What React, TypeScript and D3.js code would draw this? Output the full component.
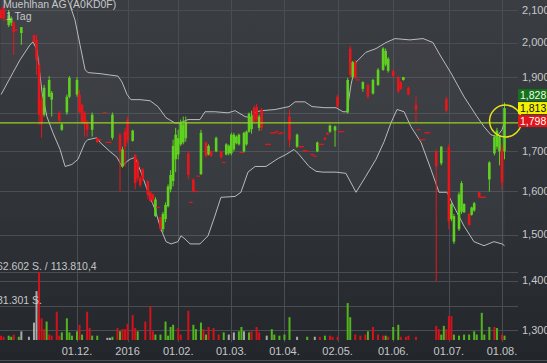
import React from "react";
import * as d3 from "d3";

const W = 547;
const H = 363;

const title = "Muehlhan AG (A0KD0F)";
const period = "1 Tag";

// trading day index of the x axis labels
const xTicks = [
  { i: 30, label: "01.12." },
  { i: 50, label: "2016" },
  { i: 70, label: "01.02." },
  { i: 91, label: "01.03." },
  { i: 112, label: "01.04." },
  { i: 133, label: "02.05." },
  { i: 155, label: "01.06." },
  { i: 177, label: "01.07." },
  { i: 198, label: "01.08." },
];

const yTicks = [1.3, 1.4, 1.5, 1.6, 1.7, 1.8, 1.9, 2.0, 2.1];

// [open, high, low, close], a single value = unchanged day, null = no trade
const candles: (number[] | null)[] = [
  [2.1, 2.105, 2.07, 2.075],
  [2.109, 2.116, 2.066, 2.075],
  [2.069],
  [2.053, 2.1, 2.047, 2.084],
  [2.06, 2.08, 2.05, 2.075],
  [2.062, 2.065, 1.963, 2.032],
  [2.038],
  null,
  [2.029, 2.047, 1.993, 2.047],
  null,
  null, // 10
  null,
  null,
  [2.023, 2.023, 2.0, 2.002],
  [2.008, 2.023, 1.905, 1.949],
  [1.934, 1.949, 1.769, 1.795],
  [1.836, 1.85, 1.734, 1.769],
  [1.795, 1.877, 1.79, 1.869],
  null,
  [1.844, 1.902, 1.844, 1.891],
  [1.836, 1.86, 1.79, 1.855], // 20
  null,
  null,
  [1.801, 1.805, 1.775, 1.779],
  [1.755, 1.773, 1.752, 1.769],
  null,
  [1.801, 1.85, 1.795, 1.844],
  [1.844, 1.902, 1.84, 1.897],
  null,
  null,
  [1.85, 1.899, 1.844, 1.891], // 30
  [1.85, 1.863, 1.801, 1.801],
  [1.822, 1.825, 1.77, 1.775],
  [1.801, 1.805, 1.737, 1.769],
  [1.775, 1.78, 1.737, 1.755],
  null,
  [1.755, 1.801, 1.737, 1.795],
  null,
  [1.734, 1.734, 1.722, 1.722],
  [1.729],
  null, // 40
  [1.801],
  [1.722],
  [1.722],
  [1.734, 1.801, 1.729, 1.795],
  null,
  null,
  [1.742, 1.747, 1.6, 1.699],
  [1.661, 1.711, 1.658, 1.704],
  [1.75, 1.76, 1.661, 1.711],
  [1.782, 1.79, 1.72, 1.729], // 50
  null,
  [1.726, 1.755, 1.724, 1.753],
  [1.691, 1.691, 1.605, 1.62],
  [1.674, 1.679, 1.625, 1.632],
  [1.632, 1.637, 1.61, 1.615],
  [1.654, 1.657, 1.625, 1.629],
  null,
  [1.625, 1.627, 1.581, 1.593],
  [1.598, 1.6, 1.575, 1.577],
  [1.593, 1.595, 1.572, 1.581], // 60
  [1.542, 1.586, 1.54, 1.581],
  [1.562],
  [1.54, 1.54, 1.508, 1.512],
  [1.512, 1.552, 1.505, 1.547],
  [1.535, 1.574, 1.528, 1.568],
  [1.565, 1.617, 1.562, 1.612],
  [1.605, 1.652, 1.598, 1.64],
  [1.625, 1.729, 1.612, 1.713],
  [1.679, 1.76, 1.647, 1.742],
  [1.691, 1.755, 1.679, 1.733], // 70
  [1.717, 1.782, 1.713, 1.773],
  [1.722, 1.79, 1.717, 1.769],
  [1.733, 1.79, 1.724, 1.775],
  [1.694, 1.7, 1.629, 1.64],
  [1.574],
  [1.629, 1.632, 1.598, 1.6],
  [1.6],
  [1.637],
  [1.642, 1.755, 1.64, 1.747],
  null, // 80
  [1.722, 1.724, 1.684, 1.687],
  [1.691, 1.717, 1.689, 1.713],
  [1.699, 1.701, 1.685, 1.687],
  null,
  [1.699, 1.737, 1.697, 1.734],
  null,
  [1.699, 1.701, 1.681, 1.684],
  [1.671],
  [1.691, 1.72, 1.689, 1.717],
  [1.694, 1.717, 1.689, 1.713], // 90
  [1.694, 1.747, 1.689, 1.742],
  [1.704, 1.747, 1.699, 1.742],
  [1.72, 1.74, 1.717, 1.737],
  [1.717, 1.745, 1.714, 1.742],
  [1.696],
  [1.699, 1.75, 1.696, 1.747],
  [1.717, 1.753, 1.714, 1.75],
  [1.75, 1.801, 1.747, 1.798],
  [1.757, 1.806, 1.745, 1.79],
  [1.814, 1.82, 1.773, 1.775], // 100
  [1.817, 1.825, 1.775, 1.782],
  [1.76, 1.795, 1.752, 1.79],
  [1.809, 1.814, 1.752, 1.76],
  null,
  [1.717],
  [1.717],
  [1.747],
  [1.747],
  [1.75],
  [1.745], // 110
  [1.747],
  null,
  null,
  [1.79, 1.809, 1.711, 1.729],
  null,
  null,
  [1.711, 1.745, 1.708, 1.742],
  [1.711],
  [1.711],
  [1.701], // 120
  [1.699],
  null,
  [1.691],
  [1.687],
  [1.699, 1.724, 1.697, 1.722],
  [1.717],
  [1.717],
  [1.734, 1.735, 1.729, 1.729],
  [1.747, 1.748, 1.742, 1.742],
  [1.75, 1.769, 1.747, 1.766], // 130
  null,
  [1.753, 1.766, 1.711, 1.764],
  [1.844, 1.85, 1.814, 1.817],
  [1.75],
  [1.75],
  null,
  [1.801, 1.897, 1.798, 1.891],
  [1.982, 1.99, 1.897, 1.905],
  [1.899, 1.946, 1.897, 1.942],
  [1.942, 1.949, 1.894, 1.897], // 140
  [1.891],
  null,
  [1.866, 1.887, 1.858, 1.885],
  null,
  [1.877, 1.88, 1.839, 1.844],
  null,
  [1.853, 1.894, 1.85, 1.891],
  null,
  [1.877, 1.925, 1.874, 1.92],
  null, // 150
  [1.92, 1.986, 1.917, 1.982],
  [1.935, 1.982, 1.93, 1.975],
  [1.917, 1.957, 1.912, 1.952],
  null,
  [1.917, 1.92, 1.9, 1.902],
  null,
  [1.899, 1.902, 1.855, 1.858],
  [1.885, 1.888, 1.863, 1.866],
  [1.891, 1.9, 1.889, 1.899],
  null, // 160
  [1.869, 1.872, 1.848, 1.85],
  null,
  null,
  [1.822, 1.844, 1.775, 1.809],
  [1.755],
  [1.729],
  [1.729],
  [1.747],
  [1.747],
  null, // 170
  null,
  [1.699, 1.704, 1.399, 1.661],
  null,
  [1.669, 1.713, 1.664, 1.711],
  null,
  [1.838, 1.844, 1.801, 1.806],
  [1.711, 1.717, 1.512, 1.53],
  [1.535, 1.574, 1.53, 1.57],
  [1.484, 1.547, 1.479, 1.542],
  null, // 180
  [1.512, 1.598, 1.508, 1.593],
  [1.552, 1.625, 1.547, 1.62],
  [1.551, 1.572, 1.549, 1.57],
  null,
  [1.547, 1.549, 1.519, 1.522],
  [1.545, 1.564, 1.543, 1.562],
  [1.555, 1.575, 1.552, 1.572],
  null,
  [1.598, 1.6, 1.584, 1.586],
  [1.586], // 190
  [1.586],
  null,
  [1.629, 1.674, 1.6, 1.671],
  null,
  [1.694, 1.742, 1.689, 1.737],
  [1.711, 1.76, 1.704, 1.753],
  [1.699, 1.74, 1.664, 1.737],
  [1.704, 1.717, 1.605, 1.622],
  [1.699, 1.828, 1.679, 1.813],
];

// shares per day
const volumes = [
  4000, 3000, 0, 4000, 3000, 5000, 0, 3000, 8000, 0,
  0, 3000, 0, 16000, 45000, 62602, 20000, 10000, 17000, 5000,
  4000, 0, 26000, 4000, 7000, 0, 20000, 7000, 4000, 0,
  8000, 14000, 5000, 0, 26000, 11000, 4000, 0, 4000, 0,
  0, 0, 2000, 2000, 3000, 0, 11000, 8000, 10000, 10000,
  15000, 0, 23000, 11000, 8000, 0, 0, 17000, 0, 31000,
  8000, 5000, 0, 5000, 0, 17000, 4000, 12000, 14000, 0,
  11000, 5000, 0, 0, 27000, 0, 14000, 10000, 0, 16000,
  10000, 5000, 12000, 0, 11000, 0, 5000, 0, 7000, 0,
  5000, 0, 7000, 0, 8000, 12000, 8000, 0, 7000, 8000,
  0, 12000, 7000, 0, 0, 4000, 0, 10000, 5000, 0,
  4000, 0, 5000, 0, 21000, 0, 0, 3000, 0, 0,
  0, 3000, 0, 0, 3000, 0, 3000, 0, 4000, 0,
  4000, 3000, 0, 3000, 0, 0, 0, 34000, 21000, 0,
  5000, 0, 4000, 0, 5000, 8000, 0, 12000, 0, 5000,
  0, 4000, 4000, 3000, 0, 12000, 0, 14000, 3000, 0,
  3000, 4000, 0, 0, 3000, 0, 0, 0, 0, 0,
  0, 0, 13000, 10000, 5000, 13000, 10000, 22000, 22000, 5000,
  0, 4000, 0, 5000, 0, 5000, 0, 8000, 5000, 0,
  25000, 5000, 0, 12000, 0, 12000, 11000, 0, 5000, 4000,
];
// g = up, r = down, n = unchanged
const volumeDir =
  "rr-ggr-gn-" + "--n-nrrrgr" + "r-rrg-ggg-" + "grg-rrg-g-" + "--nng-rgrr" +
  "r-rrg--r-r" + "rg-g-gggg-" + "rr--r-gg-g" + "rgr-r-r-g-" + "n-n-ggn-gr" +
  "-rr--n-gg-" + "g-g-g--n--" + "-g--n-r-g-" + "rr-r---gg-" + "r-r-rg-r-r" +
  "-rgr-g-gr-" + "rr--r-----" + "--rrggrrrg" + "-g-g-g-gg-" + "gg-g-rg-rg";

// Bollinger bands, [day index, price]
const bandUpper: [number, number][] = [
  [0, 2.3], [19.3, 2.263], [25.6, 2.148], [27.2, 2.116], [29.2, 2.069], [31.2, 1.993],
  [33.2, 1.92], [34.4, 1.912], [39.1, 1.909], [43, 1.905], [46.2, 1.902], [47.8, 1.885],
  [49.8, 1.85], [51.3, 1.836], [54.9, 1.836], [58.9, 1.833], [62, 1.817], [65.2, 1.787],
  [68.7, 1.773], [70.7, 1.773], [73.9, 1.782], [78.6, 1.782], [80.6, 1.803], [84.5, 1.803],
  [89.7, 1.8], [92.5, 1.806], [96.4, 1.79], [98.8, 1.787], [100.8, 1.803], [103.1, 1.806],
  [108.3, 1.809], [113.8, 1.817], [116.2, 1.83], [120.1, 1.83], [122.9, 1.817], [128, 1.814],
  [132.4, 1.814], [135.1, 1.803], [136.7, 1.803], [138.3, 1.877], [140.3, 1.942], [144.2, 1.971],
  [148.2, 1.982], [152.1, 2.0], [155.7, 2.012], [161.6, 2.008], [166.8, 2.012], [170.7, 2.0],
  [173.5, 1.963], [177.8, 1.911], [183, 1.844], [188.1, 1.79], [190.9, 1.763], [193.6, 1.742],
  [196, 1.737], [198, 1.755], [199, 1.775],
];
const bandLower: [number, number][] = [
  [0, 1.85], [4.7, 1.912], [7.5, 1.949], [11.4, 1.993], [12.6, 2.002], [14.2, 1.978],
  [16.2, 1.855], [18.1, 1.79], [20.5, 1.747], [23.3, 1.704], [25.3, 1.661], [28, 1.666],
  [30.4, 1.679], [33.2, 1.722], [34.3, 1.729], [37.9, 1.734], [39.1, 1.722], [43, 1.699],
  [45.8, 1.684], [47.8, 1.661], [49.8, 1.674], [51, 1.679], [52.9, 1.684], [55.3, 1.647],
  [58.1, 1.598], [60.8, 1.558], [63.2, 1.512], [65.2, 1.484], [67.2, 1.479], [69.9, 1.484],
  [71.1, 1.497], [72.7, 1.49], [74.7, 1.479], [78.6, 1.479], [81.8, 1.497], [84.5, 1.542],
  [86.9, 1.586], [92.5, 1.588], [94.8, 1.598], [97.6, 1.647], [100.4, 1.661], [104.7, 1.661],
  [109.5, 1.681], [112.6, 1.691], [115.8, 1.704], [117.8, 1.691], [121.7, 1.661], [124.5, 1.649],
  [127.2, 1.647], [132.4, 1.647], [136.3, 1.644], [140.3, 1.598], [144.2, 1.637], [148.2, 1.679],
  [151.4, 1.724], [154.1, 1.773], [156.5, 1.809], [159.3, 1.803], [162, 1.763], [166, 1.722],
  [169.9, 1.654], [173.1, 1.598], [176.3, 1.598], [179, 1.564], [183, 1.519], [186.9, 1.484],
  [190.9, 1.475], [194.8, 1.484], [198, 1.479], [199, 1.475],
];

const markerLine = 1.773;
const quotes = [
  { label: "1,828", bg: "#17701c", fg: "#e8ffe8" },
  { label: "1,813", bg: "#f2f200", fg: "#111111" },
  { label: "1,798", bg: "#e0141a", fg: "#ffffff" },
];
const volumeMax = 62602;
const volumeLabels = ["62.602 S. / 113.810,4", "31.301 S."];

const GREEN = "#5fd11f";
const RED = "#e8161b";
const TEXT = "#c6c8ca";
const FONT = "'Liberation Sans', Arial, sans-serif";

export default function App() {
  const plotRight = 518;
  const x = d3.scaleLinear().domain([0, 198]).range([1.1, 502]);
  const y = d3.scaleLog().domain([1.3, 2.1]).range([330, 10]);
  const yVol = d3.scaleLinear().domain([0, volumeMax]).range([340, 272]);

  const bandPath = d3
    .line<[number, number]>()
    .x((d) => x(d[0]))
    .y((d) => y(d[1]));
  const bandArea =
    "M" +
    bandUpper.map((d) => `${x(d[0])},${y(d[1])}`).join("L") +
    "L" +
    bandLower.slice().reverse().map((d) => `${x(d[0])},${y(d[1])}`).join("L") +
    "Z";

  const bw = 2.6;
  const volColor: Record<string, string> = { g: "#52b51f", r: "#d3121c", n: "#a9a9a9" };

  const lastX = x(candles.length - 1);
  const quoteMid = y(1.813);
  const quoteStep = 13;
  // axis labels hidden behind the quote boxes are not drawn
  const quoteTop = quoteMid - quoteStep - 8;
  const quoteBottom = quoteMid + quoteStep + 8;

  return (
    <svg
      width={W}
      height={H}
      style={{ position: "absolute", left: 0, top: 0, fontFamily: FONT }}
    >
      <defs>
        <linearGradient id="bg" x1="0" y1="0" x2="0" y2="1">
          <stop offset="0" stopColor="#3a3d42" />
          <stop offset="0.6" stopColor="#2f3237" />
          <stop offset="1" stopColor="#222529" />
        </linearGradient>
        <clipPath id="plot">
          <rect x={0} y={0} width={plotRight} height={342} />
        </clipPath>
      </defs>
      <rect width={W} height={H} fill="url(#bg)" />

      {/* grid */}
      <g stroke="#4a4d52" strokeWidth={1}>
        {yTicks.map((t) => (
          <line key={t} x1={0} x2={plotRight} y1={Math.round(y(t)) + 0.5} y2={Math.round(y(t)) + 0.5} />
        ))}
        {[volumeMax, volumeMax / 2].map((v) => (
          <line key={v} x1={0} x2={plotRight} y1={Math.round(yVol(v)) + 0.5} y2={Math.round(yVol(v)) + 0.5} />
        ))}
        {xTicks.map((t) => (
          <line key={t.label} x1={Math.round(x(t.i)) + 0.5} x2={Math.round(x(t.i)) + 0.5} y1={0} y2={342} />
        ))}
      </g>
      <line x1={0} x2={W} y1={360.5} y2={360.5} stroke="#4c4f54" />

      <g clipPath="url(#plot)">
        {/* bollinger band */}
        <path d={bandArea} fill="rgba(255,255,255,0.035)" />
        <path d={bandPath(bandUpper) || ""} fill="none" stroke="#b9bbbd" strokeWidth={1} />
        <path d={bandPath(bandLower) || ""} fill="none" stroke="#b9bbbd" strokeWidth={1} />

        {/* volume */}
        {volumes.map((v, i) =>
          v > 0 ? (
            <rect
              key={"v" + i}
              x={x(i) - 1}
              y={yVol(v)}
              width={2}
              height={yVol(0) - yVol(v)}
              fill={volColor[volumeDir[i]] || "#a9a9a9"}
            />
          ) : null
        )}

        {/* candles */}
        {candles.map((c, i) => {
          if (!c) return null;
          const [o, h, l, cl] = c.length === 1 ? [c[0], c[0], c[0], c[0]] : c;
          const cx = x(i);
          if (o === cl && h === l) {
            return <rect key={i} x={cx - 1.8} y={y(o) - 0.6} width={3.6} height={1.2} fill={RED} />;
          }
          const col = cl > o ? GREEN : RED;
          const top = y(Math.max(o, cl));
          const bot = y(Math.min(o, cl));
          return (
            <g key={i} fill={col}>
              <rect x={cx - 0.5} y={y(h)} width={1} height={Math.max(1, y(l) - y(h))} />
              <rect x={cx - bw / 2} y={top} width={bw} height={Math.max(1, bot - top)} />
            </g>
          );
        })}

        <line
          x1={0}
          x2={plotRight}
          y1={y(markerLine)}
          y2={y(markerLine)}
          stroke="#9ccf22"
          strokeWidth={1.3}
        />
      </g>

      <circle cx={lastX + 1} cy={121} r={16} fill="none" stroke="#e6e21a" strokeWidth={1.5} />

      {/* y axis */}
      <g fontSize={11} fill={TEXT}>
        {yTicks
          .filter((t) => y(t) < quoteTop || y(t) > quoteBottom)
          .map((t) => (
            <text key={t} x={522} y={y(t)} dy="0.35em">
              {t.toFixed(3).replace(".", ",")}
            </text>
          ))}
      </g>
      {quotes.map((q, k) => {
        const cy = quoteMid + (k - 1) * quoteStep;
        return (
          <g key={q.label}>
            <rect x={518} y={cy - 6} width={30} height={12} fill={q.bg} />
            <text x={520} y={cy} dy="0.35em" fontSize={10.5} fill={q.fg}>
              {q.label}
            </text>
          </g>
        );
      })}

      {/* x axis */}
      <g fontSize={11} fill={TEXT} textAnchor="middle">
        {xTicks.map((t) => (
          <text key={t.label} x={x(t.i)} y={355}>
            {t.label}
          </text>
        ))}
      </g>

      {/* volume labels */}
      <g fontSize={10.5} fill={TEXT}>
        <text x={-3} y={yVol(volumeMax) - 6} dy="0.35em">{volumeLabels[0]}</text>
        <text x={-3} y={yVol(volumeMax / 2) - 6} dy="0.35em">{volumeLabels[1]}</text>
      </g>

      <g fontSize={10.5} fill={TEXT}>
        <text x={3} y={8}>{title}</text>
        <text x={6} y={19.5}>{period}</text>
      </g>
    </svg>
  );
}
